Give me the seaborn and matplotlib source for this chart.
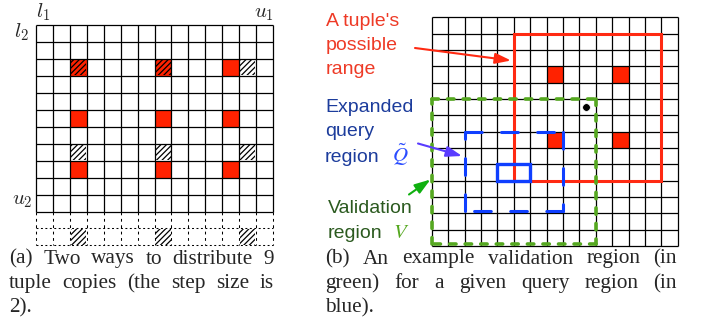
import numpy as np
import matplotlib
matplotlib.use("Agg")
import matplotlib.pyplot as plt
import seaborn as sns
from matplotlib.colors import ListedColormap
from matplotlib.patches import Rectangle

sns.set_style("white")
plt.rcParams["font.family"] = ["Liberation Sans", "DejaVu Sans"]
plt.rcParams["hatch.color"] = "black"
plt.rcParams["hatch.linewidth"] = 0.9
plt.rcParams["lines.scale_dashes"] = False

# ---------------- data ----------------
# (a) grid: 11 solid rows + 2 extension rows, 14 columns; cells are (row, col)
LEFT_ROWS, LEFT_COLS, LEFT_EXTRA = 11, 14, 2
left_red = [(2, 11), (5, 2), (5, 7), (5, 11), (8, 2), (8, 7), (8, 11)]
left_red_hatched = [(2, 2), (2, 7)]
left_hatched = [(2, 12), (7, 2), (7, 7), (7, 12), (12, 2), (12, 7), (12, 12)]

# (b) grid: 14 rows x 15 columns
RIGHT_ROWS, RIGHT_COLS = 14, 15
right_red = [(3, 7), (3, 11), (7, 7), (7, 11)]
tuple_range = (5, 1, 14, 10)          # x0, y0, x1, y1 in cells
validation_region = (0, 5, 10, 13.85)
expanded_query = (2, 7, 8, 11.85)
query_region = (4, 9, 6, 10)
tuple_point = (9.4, 5.5)

caption_a = ["(a) Two ways to distribute 9", "tuple copies (the step size is", "2)."]
caption_b = ["(b) An example validation region (in", "green) for a given query region (in", "blue)."]

RED = "#ff2200"
RED_LINE = "#ff2a12"
RED_TEXT = "#ee3a26"
BLUE = "#0f3fff"
BLUE_TEXT = "#1c3c9c"
GREEN = "#55a820"
GREEN_TEXT = "#2b5a1f"

W, H = 702, 325
fig = plt.figure(figsize=(W / 100, H / 100), dpi=100)


def px_axes(x0, y0, x1, y1):
    return fig.add_axes([x0 / W, 1 - y1 / H, (x1 - x0) / W, (y1 - y0) / H])


def grid_heatmap(ax, data):
    rows, cols = data.shape
    sns.heatmap(data, ax=ax, cmap=ListedColormap(["white", RED]), vmin=0, vmax=1,
                cbar=False, linewidths=0, xticklabels=False, yticklabels=False)
    ax.vlines(range(cols + 1), 0, rows, color="black", lw=0.9, clip_on=False, zorder=2)
    ax.hlines(range(rows + 1), 0, cols, color="black", lw=0.9, clip_on=False, zorder=2)
    ax.set_axis_off()


# ---------------- (a) ----------------
cl = 16.93
axL = px_axes(36, 25.3, 36 + LEFT_COLS * cl, 25.3 + (LEFT_ROWS + LEFT_EXTRA) * cl)
left_data = np.zeros((LEFT_ROWS, LEFT_COLS))
for r, c in left_red + left_red_hatched:
    left_data[r, c] = 1
grid_heatmap(axL, left_data)
axL.set_xlim(0, LEFT_COLS)
axL.set_ylim(LEFT_ROWS + LEFT_EXTRA, 0)

for c in range(LEFT_COLS + 1):
    axL.plot([c, c], [LEFT_ROWS, LEFT_ROWS + LEFT_EXTRA], color="black", lw=0.75,
             dashes=(2.0, 2.6), clip_on=False)
for r in range(LEFT_ROWS + 1, LEFT_ROWS + LEFT_EXTRA + 1):
    axL.plot([0, LEFT_COLS], [r, r], color="black", lw=0.75, dashes=(1.4, 1.8), clip_on=False)

for r, c in left_red_hatched + left_hatched:
    axL.add_patch(Rectangle((c + 0.04, r + 0.04), 0.92, 0.92, fill=False, hatch="//////",
                            edgecolor="black", lw=0, zorder=3, clip_on=False))

# ---------------- (b) ----------------
cw, ch = 16.4, 16.34
axR = px_axes(431.7, 17.3, 431.7 + RIGHT_COLS * cw, 17.3 + RIGHT_ROWS * ch)
right_data = np.zeros((RIGHT_ROWS, RIGHT_COLS))
for r, c in right_red:
    right_data[r, c] = 1
grid_heatmap(axR, right_data)


def frame(ax, box, dashes=None, **kw):
    x0, y0, x1, y1 = box
    xs = [x0, x1, x1, x0, x0]
    ys = [y0, y0, y1, y1, y0]
    if dashes is None:
        ax.plot(xs, ys, clip_on=False, solid_joinstyle="miter", **kw)
    else:
        for i in range(4):
            ax.plot(xs[i:i + 2], ys[i:i + 2], clip_on=False, dashes=dashes,
                    dash_capstyle="round", **kw)


frame(axR, tuple_range, color=RED_LINE, lw=2.2, zorder=4)
frame(axR, validation_region, dashes=(4.6, 6.6), color=GREEN, lw=2.6, zorder=5)
frame(axR, expanded_query, dashes=(12.0, 14.0), color=BLUE, lw=2.2, zorder=6)
frame(axR, query_region, color=BLUE, lw=2.4, zorder=7)
sns.scatterplot(x=[tuple_point[0]], y=[tuple_point[1]], ax=axR, color="black",
                s=30, zorder=8, legend=False, clip_on=False)
axR.set_xlim(0, RIGHT_COLS)
axR.set_ylim(RIGHT_ROWS, 0)
axR.set_axis_off()

# ---------------- labels, arrows, captions ----------------
axO = fig.add_axes([0, 0, 1, 1])
axO.set_xlim(0, W)
axO.set_ylim(H, 0)
axO.set_axis_off()
axO.set_zorder(10)

for x, y, s in [(36.5, 17.5, r"$l_1$"), (14, 37.5, r"$l_2$"),
                (254.5, 17.5, r"$u_1$"), (12, 204, r"$u_2$")]:
    axO.text(x, y, s, fontsize=15, math_fontfamily="cm", va="baseline", ha="left")

for y, s in [(26, "A tuple's"), (50, "possible"), (74, "range")]:
    axO.text(326, y, s, fontsize=14, color=RED_TEXT, va="baseline")
for y, s in [(112, "Expanded"), (136.5, "query"), (161.5, "region")]:
    axO.text(325, y, s, fontsize=14, color=BLUE_TEXT, va="baseline")
axO.text(392.5, 161.5, r"$\tilde{Q}$", fontsize=15, color="#2a4cff",
         math_fontfamily="stix", va="baseline")
for y, s in [(213, "Validation"), (237.5, "region")]:
    axO.text(328, y, s, fontsize=14, color=GREEN_TEXT, va="baseline")
axO.text(393, 237.5, r"$V$", fontsize=15, color=GREEN, math_fontfamily="stix", va="baseline")


def arrow(tail, tip, color, lw):
    axO.annotate("", xy=tip, xytext=tail,
                 arrowprops=dict(arrowstyle="-|>,head_length=0.95,head_width=0.32",
                                 color=color, lw=lw, shrinkA=0, shrinkB=0,
                                 mutation_scale=10))


arrow((415, 48), (511, 60.5), RED_LINE, 1.5)
arrow((418, 143.5), (462, 156), "#5a3cff", 1.5)
arrow((409, 194.5), (430.5, 179.5), "#10b010", 1.5)

renderer = fig.canvas.get_renderer()


def caption(lines, x0, x1, y0, pitch=24.5, size=15.3):
    for i, line in enumerate(lines):
        y = y0 + i * pitch
        words = line.split(" ")
        texts = [axO.text(x0, y, w, fontsize=size, family="Liberation Serif",
                          va="baseline", ha="left") for w in words]
        widths = [t.get_window_extent(renderer).width for t in texts]
        if i == len(lines) - 1 or len(words) == 1:
            gap = 0.25 * size * 100 / 72
        else:
            gap = (x1 - x0 - sum(widths)) / (len(words) - 1)
        x = x0
        for t, w in zip(texts, widths):
            t.set_x(x)
            x += w + gap


caption(caption_a, 9, 274, 263.5)
caption(caption_b, 325, 677, 263.5)

fig.savefig("out.png", dpi=100)
